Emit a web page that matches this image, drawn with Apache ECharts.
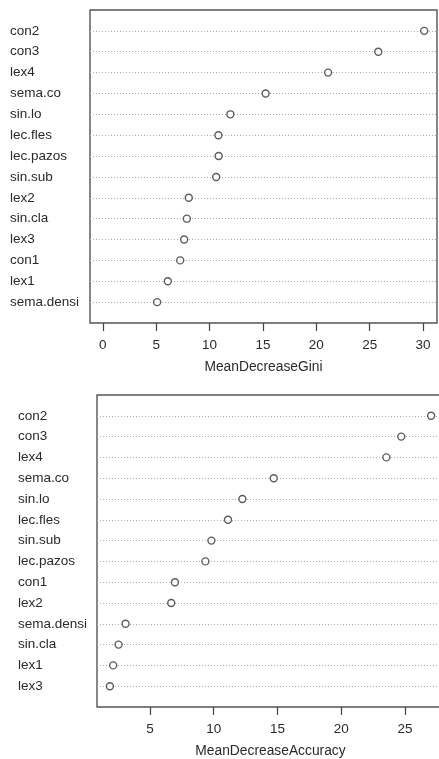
<!DOCTYPE html>
<html>
<head>
<meta charset="utf-8">
<script src="https://cdn.jsdelivr.net/npm/echarts@6/dist/echarts.min.js"></script>
<style>
  html, body { margin: 0; padding: 0; background: #fff; overflow: hidden; }
  #chart { width: 450px; height: 759px; }
</style>
</head>
<body>
<div id="chart"></div>
<script>
'use strict';

// MeanDecreaseGini, top to bottom
var giniNames = ['con2','con3','lex4','sema.co','sin.lo','lec.fles','lec.pazos','sin.sub','lex2','sin.cla','lex3','con1','lex1','sema.densi'];
var giniValues = [30.1, 25.8, 21.1, 15.25, 11.95, 10.83, 10.85, 10.62, 8.05, 7.87, 7.62, 7.25, 6.09, 5.09];
var giniTicks = [0, 5, 10, 15, 20, 25, 30];

// MeanDecreaseAccuracy, top to bottom
var accNames = ['con2','con3','lex4','sema.co','sin.lo','lec.fles','sin.sub','lec.pazos','con1','lex2','sema.densi','sin.cla','lex1','lex3'];
var accValues = [27.05, 24.71, 23.54, 14.71, 12.25, 11.12, 9.82, 9.35, 6.96, 6.67, 3.09, 2.54, 2.12, 1.86];
var accTicks = [5, 10, 15, 20, 25];

var font = 'Liberation Sans, Arial, sans-serif';
var rows = [1,2,3,4,5,6,7,8,9,10,11,12,13,14];

function xAx(idx, name, min, max, ticks) {
  return {
    gridIndex: idx, type: 'value', position: 'bottom', min: min, max: max,
    name: name, nameLocation: 'middle', nameGap: 37,
    nameTextStyle: { color: '#2a2a2a', fontSize: 13.8, fontFamily: font },
    axisLine: { show: false, onZero: false },
    axisTick: { show: true, length: 8, customValues: ticks, lineStyle: { color: '#444', width: 1.2 } },
    axisLabel: { customValues: ticks, margin: 15, color: '#2a2a2a', fontSize: 13.5, fontFamily: font },
    splitLine: { show: false }
  };
}

function yAx(idx, names, margin) {
  return {
    gridIndex: idx, type: 'value', min: 0, max: 15, interval: 1, inverse: true,
    axisLine: { show: false, onZero: false },
    axisTick: { show: false },
    axisLabel: {
      customValues: rows, align: 'left', margin: margin,
      color: '#2a2a2a', fontSize: 13.5, fontFamily: font,
      formatter: function (v) { return names[v - 1] || ''; }
    },
    splitLine: {
      show: true, showMinLine: false, showMaxLine: false,
      lineStyle: { color: '#aaa', type: [1, 2], width: 1 }
    }
  };
}

function dots(idx, values) {
  return {
    type: 'scatter', xAxisIndex: idx, yAxisIndex: idx,
    symbol: 'circle', symbolSize: 7,
    itemStyle: { color: '#fff', borderColor: '#333', borderWidth: 1.4 },
    data: values.map(function (v, i) { return [v, i + 1]; })
  };
}

var myChart = echarts.init(document.getElementById('chart'));
myChart.setOption({
  animation: false,
  grid: [
    { left: 90, top: 10, width: 347, height: 313, show: true, borderColor: '#555', borderWidth: 1.4 },
    { left: 97, top: 395, width: 347, height: 313, show: true, borderColor: '#555', borderWidth: 1.4 }
  ],
  xAxis: [
    xAx(0, 'MeanDecreaseGini', -1.2, 31.3, giniTicks),
    xAx(1, 'MeanDecreaseAccuracy', 0.85, 28.06, accTicks)
  ],
  yAxis: [
    yAx(0, giniNames, 80),
    yAx(1, accNames, 79)
  ],
  series: [
    dots(0, giniValues),
    dots(1, accValues)
  ]
});
</script>
</body>
</html>
